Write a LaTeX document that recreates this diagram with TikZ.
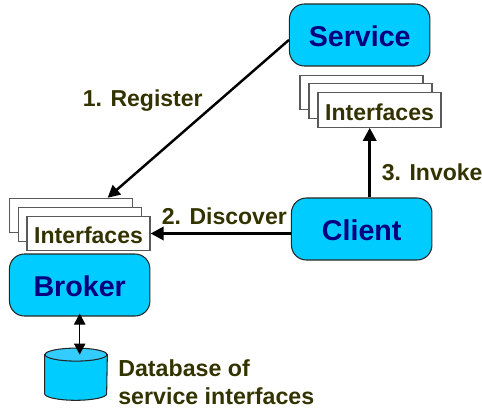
\documentclass[tikz,border=0pt]{standalone}
\usepackage{fontspec}
\setmainfont{Liberation Sans}
\usetikzlibrary{arrows.meta}
\definecolor{boxblue}{HTML}{00CCFF}
\definecolor{lidblue}{HTML}{33CCFF}
\definecolor{boxtext}{HTML}{000080}
\definecolor{labeltext}{HTML}{333300}

\begin{document}
\begin{tikzpicture}[
      x=0.02cm,y=-0.02cm,
      obj/.style={rectangle,rounded corners=8.5pt,draw=black!85,line width=0.6pt,fill=boxblue,minimum width=2.81cm,minimum height=1.24cm,align=center,text=boxtext,text height=13.4pt,text depth=0pt,font=\fontsize{16.3}{18}\selectfont\bfseries},
      iface/.style={rectangle,draw=black!65,line width=0.6pt,fill=white,minimum width=2.46cm,minimum height=0.69cm,inner sep=0pt,text=labeltext,text height=11.4pt,text depth=0pt,font=\fontsize{13.1}{15}\selectfont\bfseries},
      lbl/.style={inner sep=0pt,text=labeltext,font=\fontsize{13.1}{15.5}\selectfont\bfseries,align=left},
      dbshape/.style={draw=black!85,line width=0.6pt},
      link/.style={-{Triangle[length=7.5pt,width=7.5pt]},line width=1.7pt},
      >={Triangle[length=6.3pt,width=6.5pt]}
    ]
    \useasboundingbox (0,0) rectangle (482,408);

    \node[obj] (Service) at (359.7,35) {Service};
    \node[obj] (Client) at (361.7,229) {Client};
    \node[obj] (Broker) at (79.7,285) {Broker};

    \node[iface] (IfS1) at (361.5,92.5) {};
    \node[iface] (IfS2) at (370.5,101) {};
    \node[iface] (IfS3) at (379.5,110) {Interfaces};

    \node[iface] (IfB1) at (71.2,215.5) {};
    \node[iface] (IfB2) at (79.7,224.5) {};
    \node[iface] (IfB3) at (88.5,233.5) {Interfaces};

    % database cylinder
    \node[minimum width=1.24cm,minimum height=0.77cm,inner sep=0pt] (Db) at (76,374.2) {};
    \fill[boxblue,dbshape] (Db.north west) -- (Db.south west) arc[start angle=180,end angle=360,x radius=0.62cm,y radius=0.13cm] -- (Db.north east) -- cycle;
    \fill[lidblue,dbshape] (Db.north) ellipse[x radius=0.62cm,y radius=0.13cm];

    \draw[link,line width=1.4pt,-{Triangle[length=7pt,width=7pt]}] (Service.184) -- (IfB1.26);
    \draw[link] (IfB3.east -| Client.west) -- (IfB3.east);
    \draw[link] (Client.north) ++(8,0) coordinate (InvokeFrom) -- (InvokeFrom |- IfS3.south);
    \draw[<->,line width=0.6pt] (Broker.south) ++(0,-3) coordinate (DbTop) -- (DbTop |- Db.north);

    \node[lbl,anchor=west] (RegLbl) at (82.5,100.5) {1. Register};
    \node[lbl,anchor=west] (DiscLbl) at (161.5,216.5) {2. Discover};
    \node[lbl,anchor=west] (InvLbl) at (381.5,172) {3. Invoke};
    \node[lbl,anchor=west,font=\fontsize{13.2}{16}\selectfont\bfseries] (DbLbl) at (118,382.3) {Database of\\service interfaces};
\end{tikzpicture}
\end{document}
